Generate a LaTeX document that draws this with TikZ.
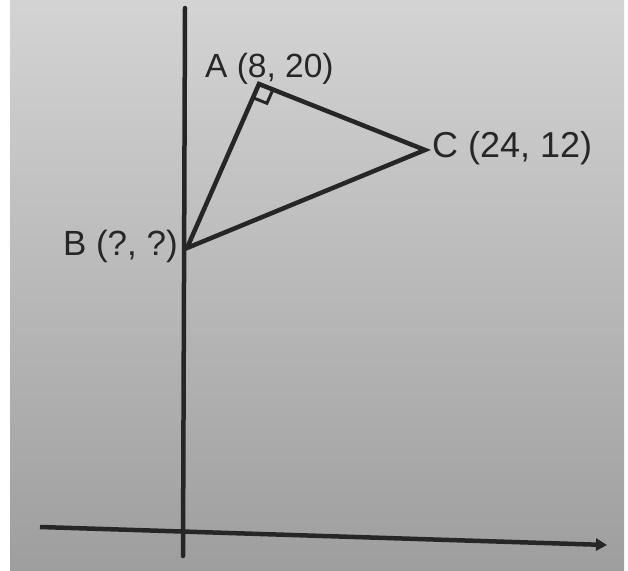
\documentclass[tikz,border=0pt]{standalone}
\usepackage{fontspec}
\setmainfont{Liberation Sans}
\usetikzlibrary{calc,arrows.meta}
\begin{document}
\begin{tikzpicture}[x=1pt,y=-1pt,
  axis/.style={line width=4.5pt,color=black!85},
  edge/.style={line width=4.5pt,color=black!85,line join=miter},
  lbl/.style={font=\fontsize{35}{40}\selectfont,text=black!85,inner sep=0pt}]
\useasboundingbox (0,0) rectangle (628,570);
\shade[top color=black!17,bottom color=black!38] (10,0) rectangle (624,570);
% axes
\coordinate (ytop) at (185,8);
\coordinate (ybot) at (183,556);
\coordinate (xl) at (40,527);
\coordinate (xr) at (607,545);
\draw[axis,line cap=round] (ybot) -- (ytop);
\draw[axis,-{Triangle[length=11pt,width=12pt]}] (xl) -- (xr);
% triangle
\coordinate (A) at (259,84);
\coordinate (B) at (187,248);
\coordinate (C) at (425,150);
\draw[edge] (A) -- (B) -- (C) -- cycle;
% right angle mark
\coordinate (u) at ($(A)!15pt!(B)$);
\coordinate (v) at ($(A)!15pt!(C)$);
\draw[line width=3pt,color=black!85] (u) -- ($(u)+(v)-(A)$) -- (v);
% labels
\node[lbl,font=\fontsize{33.5}{40}\selectfont,anchor=base west] (la) at (205,77) {A (8, 20)};
\node[lbl,font=\fontsize{36}{40}\selectfont,anchor=base west] (lc) at (432,157) {C (24, 12)};
\node[lbl,anchor=base east] (lb) at (178,255) {B (?, ?)};
\end{tikzpicture}
\end{document}
